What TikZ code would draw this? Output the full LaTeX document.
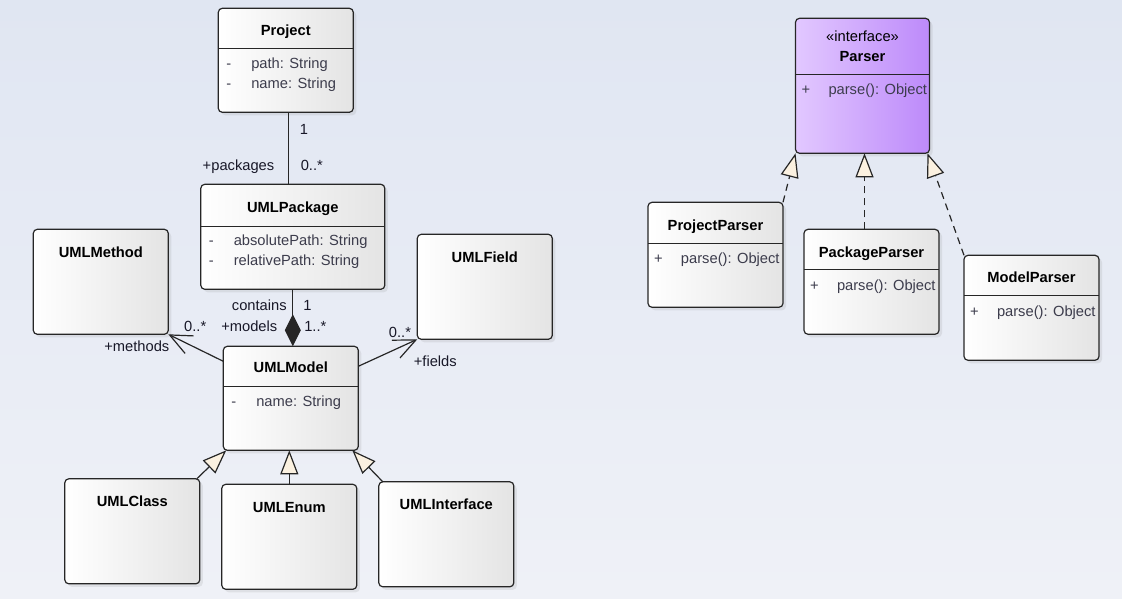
\documentclass[tikz,border=0pt]{standalone}
\usepackage{fontspec}
\setmainfont{Liberation Sans}
\usetikzlibrary{arrows.meta, positioning, shadows}

\definecolor{bgtop}{RGB}{224,230,242}
\definecolor{bgbottom}{RGB}{239,241,247}
\definecolor{boxright}{RGB}{228,228,228}
\definecolor{ifaceleft}{RGB}{226,200,255}
\definecolor{ifaceright}{RGB}{189,138,250}
\definecolor{cream}{RGB}{251,241,224}
\definecolor{attrgray}{RGB}{60,60,76}
\definecolor{edgelabel}{RGB}{24,24,40}

% visibility mark in front of a member
\newcommand{\vis}[1]{\makebox[0pt]{#1}\hspace{22.5pt}}

\begin{document}
\begin{tikzpicture}[
		x=1pt, y=-1pt,
		txt/.style={inner sep=0pt, outer sep=0pt, text height=10.5pt, text depth=0pt, font=\fontsize{14.7}{17}\selectfont},
		classbox/.style={rectangle, draw=black!85, rounded corners=4pt, line width=1.2pt, minimum width=135pt, minimum height=105pt, inner sep=0pt, outer sep=0pt, left color=white, right color=boxright, drop shadow={shadow xshift=3pt, shadow yshift=-3pt, opacity=0.15}},
		ifacebox/.style={classbox, left color=ifaceleft, right color=ifaceright, minimum width=134pt, minimum height=135pt},
		title/.style={txt, font=\fontsize{14.7}{17}\selectfont\bfseries},
		attr/.style={txt, anchor=west, text=attrgray},
		lbl/.style={txt, text=edgelabel},
		divider/.style={line width=1.2pt, draw=black!85},
		assoc/.style={line width=1.2pt, draw=black!85},
		inherit/.style={assoc, -{Triangle[open, fill=cream, length=24pt, width=18pt]}},
		realize/.style={inherit, dash pattern=on 7pt off 5pt}
		]
		% Background
		\shade [top color=bgtop, bottom color=bgbottom] (0,0) rectangle (1122,599);
		\useasboundingbox (0,0) rectangle (1122,599);
		
		% Nodes
		\node (proj) [classbox, minimum height=104pt] at (285.8,60.3) {};
		\node (pkg) [classbox, minimum width=184pt, below=72pt of proj, xshift=7pt] {};
		\node (mdl) [classbox, minimum height=104pt, below=57pt of pkg, xshift=-2pt] {};
		\node (mth) [classbox, above left=12pt and 55pt of mdl.north west] {};
		\node (fld) [classbox, above right=7pt and 59pt of mdl.north east] {};
		\node (enm) [classbox, below=34pt of mdl, xshift=-1.5pt] {};
		\node (cls) [classbox, left=22pt of enm, yshift=5.5pt] {};
		\node (ifc) [classbox, right=22pt of enm, yshift=2.5pt] {};
		
		\node (psr) [ifacebox] at (862.5,85.8) {};
		\node (kpr) [classbox, below=76pt of psr, xshift=9pt] {};
		\node (ppr) [classbox, left=21pt of kpr, yshift=27pt] {};
		\node (mpr) [classbox, right=25pt of kpr, yshift=-26pt] {};
		
		% Texts
		\node (projT) [title] at ([yshift=-22pt]proj.north) {Project};
		\draw [divider] ([yshift=-40pt]proj.north west) -- ([yshift=-40pt]proj.north east);
		\node (projA1) [attr] at ([xshift=10.5pt, yshift=-55pt]proj.north west) {\vis{-}path: String};
		\node (projA2) [attr] at ([xshift=10.5pt, yshift=-75pt]proj.north west) {\vis{-}name: String};
		
		\node (pkgT) [title] at ([yshift=-22.5pt]pkg.north) {UMLPackage};
		\draw [divider] ([yshift=-42pt]pkg.north west) -- ([yshift=-42pt]pkg.north east);
		\node (pkgA1) [attr] at ([xshift=10.5pt, yshift=-56pt]pkg.north west) {\vis{-}absolutePath: String};
		\node (pkgA2) [attr] at ([xshift=10.5pt, yshift=-76pt]pkg.north west) {\vis{-}relativePath: String};
		
		\node (mdlT) [title] at ([yshift=-21pt]mdl.north) {UMLModel};
		\draw [divider] ([yshift=-40.5pt]mdl.north west) -- ([yshift=-40.5pt]mdl.north east);
		\node (mdlA1) [attr] at ([xshift=10.5pt, yshift=-54.5pt]mdl.north west) {\vis{-}name: String};
		
		\node (mthT) [title] at ([yshift=-22.5pt]mth.north) {UMLMethod};
		\node (fldT) [title] at ([yshift=-22.5pt]fld.north) {UMLField};
		\node (clsT) [title] at ([yshift=-22.5pt]cls.north) {UMLClass};
		\node (enmT) [title] at ([yshift=-22.5pt]enm.north) {UMLEnum};
		\node (ifcT) [title] at ([yshift=-22pt]ifc.north) {UMLInterface};
		
		\node (psrS) [txt] at ([yshift=-17.5pt]psr.north) {«interface»};
		\node (psrT) [title] at ([yshift=-37.5pt]psr.north) {Parser};
		\draw [divider] ([yshift=-56pt]psr.north west) -- ([yshift=-56pt]psr.north east);
		\node (psrA1) [attr] at ([xshift=10.5pt, yshift=-71pt]psr.north west) {\vis{+}parse(): Object};
		
		\node (pprT) [title] at ([yshift=-22.5pt]ppr.north) {ProjectParser};
		\draw [divider] ([yshift=-41pt]ppr.north west) -- ([yshift=-41pt]ppr.north east);
		\node (pprA1) [attr] at ([xshift=10.5pt, yshift=-55.5pt]ppr.north west) {\vis{+}parse(): Object};
		
		\node (kprT) [title] at ([yshift=-22.5pt]kpr.north) {PackageParser};
		\draw [divider] ([yshift=-40.5pt]kpr.north west) -- ([yshift=-40.5pt]kpr.north east);
		\node (kprA1) [attr] at ([xshift=10.5pt, yshift=-55.5pt]kpr.north west) {\vis{+}parse(): Object};
		
		\node (mprT) [title] at ([yshift=-22pt]mpr.north) {ModelParser};
		\draw [divider] ([yshift=-40.5pt]mpr.north west) -- ([yshift=-40.5pt]mpr.north east);
		\node (mprA1) [attr] at ([xshift=10.5pt, yshift=-55.5pt]mpr.north west) {\vis{+}parse(): Object};
		
		% Labels
		\node (lblProj1) [lbl] at (304,129.7) {1};
		\node (lblPkgRole) [lbl] at (238.5,165.5) {+packages};
		\node (lblPkgMult) [lbl] at (311.8,165.5) {0..*};
		\node (lblContains) [lbl] at (259.3,305) {contains};
		\node (lblPkg1) [lbl] at (307.5,305) {1};
		\node (lblMdlRole) [lbl] at (249.3,326.5) {+models};
		\node (lblMdlMult) [lbl] at (315.3,326.5) {1..*};
		\node (lblMthMult) [lbl] at (195.2,325.8) {0..*};
		\node (lblMthRole) [lbl] at (136.8,346.5) {+methods};
		\node (lblFldMult) [lbl] at (400,332.5) {0..*};
		\node (lblFldRole) [lbl] at (435.3,361.5) {+fields};
		
		% Arrows
		\draw [assoc] ([xshift=3pt]proj.south) -- ([xshift=3pt]proj.south |- pkg.north);
		\draw [assoc, -{Diamond[length=32pt, width=16pt]}] (pkg.south) -- (pkg.south |- mdl.north);
		\draw [assoc, -{Straight Barb[length=22pt, width=19.5pt]}] ([yshift=-15pt]mdl.north west) -- (mth.south east);
		\draw [assoc, -{Straight Barb[length=22pt, width=19.5pt]}] ([yshift=-20pt]mdl.north east) -- (fld.south west);
		\draw [inherit] ([xshift=-3pt]cls.north east) -- ([xshift=3pt]mdl.south west);
		\draw [inherit] (enm.north) -- (enm.north |- mdl.south);
		\draw [inherit] ([xshift=4pt]ifc.north west) -- ([xshift=-6pt]mdl.south east);
		\draw [realize] (ppr.north east) -- (psr.south west);
		\draw [realize] ([xshift=2pt]psr.south |- kpr.north) -- ([xshift=2pt]psr.south);
		\draw [realize] (mpr.north west) -- ([xshift=-2pt]psr.south east);
		
	\end{tikzpicture}
\end{document}
